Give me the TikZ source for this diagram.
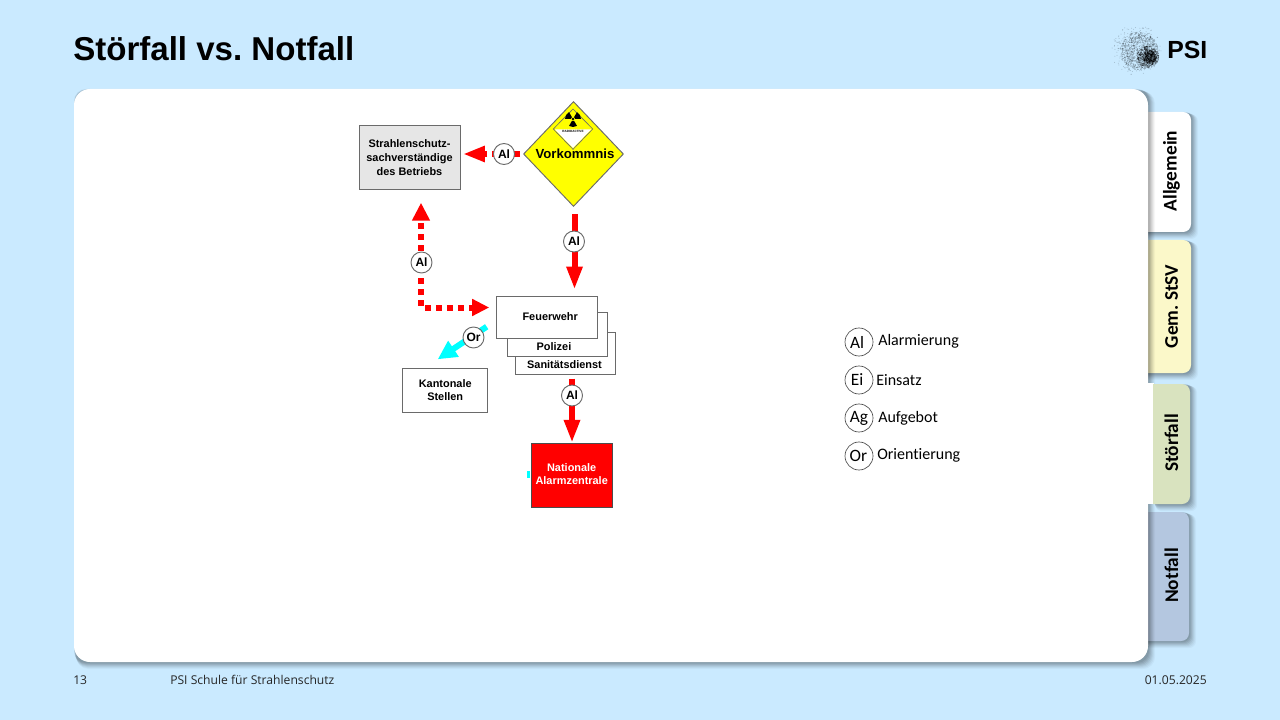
\documentclass[tikz,border=0pt]{standalone}
\usepackage{fontspec}
\setmainfont[Ligatures=NoCommon]{Carlito}
\newfontfamily\arialf{Liberation Sans}
\newfontfamily\footf[Ligatures=NoCommon]{Open Sans}
\usetikzlibrary{arrows.meta,calc,shapes.geometric}
\frenchspacing
\definecolor{bgblue}{HTML}{CAEAFF}
\definecolor{tabyellow}{HTML}{FBF8C9}
\definecolor{tabgreen}{HTML}{D9E3BF}
\definecolor{tabblue}{HTML}{B4C7E0}
\definecolor{edgegray}{HTML}{6A6A6A}
\definecolor{ssvgray}{HTML}{E6E6E6}
\definecolor{pureyellow}{HTML}{FFFF00}
\definecolor{purecyan}{HTML}{00FFFF}
\definecolor{purered}{HTML}{FF0000}
\newcommand{\dtext}[1]{\arialf\bfseries\fontsize{#1}{#1}\selectfont}
\newcommand{\softshadow}[5]{%
  \foreach \o/\e in {0/0.07,1/0.07,2/0.07,3/0.06,4/0.05,5/0.04,6/0.03}{
    \fill[black,opacity=\e,rounded corners=#5*0.75pt]
      ($(#1,#2)+(\o*0.4,\o*0.4)$) rectangle ($(#3,#4)+(\o*1.0+1,\o*1.0+1)$);
  }}
\tikzset{
  flow/.style 2 args={draw=edgegray,line width=0.7pt,fill=white,align=center,inner sep=0pt,
    minimum width=#1*0.75pt,minimum height=#2*0.75pt,text=black},
  flowtext/.style={inner sep=0pt,font=\dtext{8.2},text=black},
  badge/.style={circle,draw=edgegray,line width=0.7pt,fill=white,inner sep=0pt,
    minimum size=21*0.75pt,font=\dtext{9}},
  legendcircle/.style={circle,draw=black!70,line width=0.5pt,fill=white,inner sep=0pt,
    minimum size=28*0.75pt,font=\fontsize{13}{13}\selectfont},
  legendtext/.style={anchor=west,inner sep=0pt,font=\fontsize{12}{14}\selectfont,text=black},
  tabtext/.style={rotate=90,inner sep=0pt,font=\bfseries\fontsize{14.5}{16}\selectfont,text=black},
  foot/.style={inner sep=0pt,font=\footf\fontsize{9.1}{10}\selectfont,text=black!85},
  redsolid/.style={draw=purered,line width=6*0.75pt,-{Triangle[length=23*0.75pt,width=15*0.75pt]}},
  reddash/.style={draw=purered,line width=6*0.75pt,dash pattern=on 6*0.75pt off 5*0.75pt},
  cyanarrow/.style={draw=purecyan,line width=6*0.75pt,-{Triangle[length=19*0.75pt,width=18*0.75pt]}},
}
\begin{document}
\begin{tikzpicture}[x=0.75pt,y=-0.75pt]
\useasboundingbox (0,0) rectangle (1280,720);
\fill[bgblue] (0,0) rectangle (1280,720);

% title and logo
\node[anchor=base west,inner sep=0pt,font=\arialf\bfseries\fontsize{24.8}{26}\selectfont] (title) at (73,60.5) {Störfall vs. Notfall};
\pgfmathsetseed{11}
\foreach \i in {1,...,260}{
  \pgfmathsetmacro\ang{rnd*360}\pgfmathsetmacro\rad{25*sqrt(rnd)}
  \fill[black,opacity=.2] ($(1136,50)+(\ang:\rad)$) circle (0.5);
}
\foreach \i in {1,...,900}{
  \pgfmathsetmacro\ang{rnd*360}\pgfmathsetmacro\rad{19*sqrt(rnd)}
  \fill[black,opacity=.22] ($(1139,51)+(\ang:\rad)$) circle (0.55);
}
\foreach \i in {1,...,350}{
  \pgfmathsetmacro\ang{rnd*360}\pgfmathsetmacro\rad{11*sqrt(rnd)}
  \fill[black,opacity=.4] ($(1148,57)+(\ang:\rad)$) circle (0.6);
}
\foreach \i in {1,...,220}{
  \pgfmathsetmacro\ang{rnd*360}\pgfmathsetmacro\rad{6.5*sqrt(rnd)}
  \fill[black,opacity=.55] ($(1150,57)+(\ang:\rad)$) circle (0.65);
}
\node[anchor=base west,inner sep=0pt,font=\arialf\bfseries\fontsize{18.6}{20}\selectfont] (psi) at (1167,59) {PSI};

% tabs behind the panel
\softshadow{1140}{112}{1191}{232}{7}
\path[fill=white,rounded corners=6] (1140,112) -- (1191,112) -- (1191,232) -- (1140,232) -- cycle;
\softshadow{1140}{240}{1191}{373}{7}
\path[fill=tabyellow,rounded corners=6] (1140,240) -- (1191,240) -- (1191,373) -- (1140,373) -- cycle;
\softshadow{1140}{512}{1189}{641}{7}
\path[fill=tabblue,rounded corners=6] (1140,512) -- (1189,512) -- (1189,641) -- (1140,641) -- cycle;

% panel
\softshadow{74}{89}{1148}{662}{12}
\path[fill=white,rounded corners=12] (74,89) rectangle (1148,662);

% active tab
\softshadow{1153}{384}{1190}{504}{6}
\fill[white] (1146,383) rectangle (1153.5,504);
\path[fill=tabgreen] (1153,384) [rounded corners=6] -- (1190,384) -- (1190,504) [sharp corners] -- (1153,504) -- cycle;

\node[tabtext] (tabA) at (1171.5,171) {Allgemein};
\node[tabtext] (tabB) at (1171.5,306.5) {Gem. StSV};
\node[tabtext] (tabC) at (1171.5,443) {Störfall};
\node[tabtext] (tabD) at (1171.5,575.5) {Notfall};

% footer
\node[foot,anchor=base west] (f1) at (73,684) {13};
\node[foot,anchor=base west] (f2) at (170,684) {PSI Schule für Strahlenschutz};
\node[foot,anchor=base east] (f3) at (1207,684) {01.05.2025};

% diagram boxes
\node[flow={101}{63.5},fill=ssvgray,font=\dtext{8.2}] (ssv) at (409.5,157.5) {Strahlenschutz-\\[2.2pt]sachverständige\\[2.2pt]des Betriebs};
\node[flow={100}{42.5}] (san) at (565.3,353.3) {};
\node[flow={100.5}{43.5}] (pol) at (557.5,334.5) {};
\node[flow={101}{42},font=\dtext{8.2}] (feuer) at (547.2,317) {\kern4.5pt Feuerwehr};
\node[flowtext] (polt) at (554,346.7) {Polizei};
\node[flowtext] (sant) at (564.5,364.5) {Sanitätsdienst};
\node[flow={85}{44},font=\dtext{8.2}] (kant) at (445.2,390.3) {Kantonale\\[1.8pt]Stellen};
\node[flow={80.7}{64},fill=purered,text=white,draw=black!70,font=\dtext{8.2}] (naz) at (571.7,475.3) {\raisebox{1.5pt}{Nationale}\\[1.2pt]\raisebox{1.5pt}{Alarmzentrale}};
\fill[purecyan] (527,471) rectangle (530,478);

% Vorkommnis diamond
\node[diamond,aspect=1,draw=edgegray,line width=0.7pt,fill=pureyellow,inner sep=0pt,
  minimum width=100*0.75pt,minimum height=105*0.75pt] (vorkD) at (573.5,154) {};
\path[fill=pureyellow,draw=edgegray,line width=0.5pt] (573,109) -- (592.7,129) -- (573,149.3) -- (553.3,129) -- cycle;
\path[fill=white] (555,129.5) -- (591,129.5) -- (573,148) -- cycle;
\begin{scope}[shift={(573,119)},x=0.75pt,y=0.75pt]
  \foreach \a in {30,150,270}{
    \fill[black] (\a-30:2.2) -- (\a-30:8) arc[start angle=\a-30,end angle=\a+30,radius=8*0.75pt] -- (\a+30:2.2) -- cycle;
  }
  \fill[black] (0,0) circle (1.4);
\end{scope}
\node[inner sep=0pt,font=\arialf\bfseries\fontsize{2.3}{3}\selectfont] (radio) at (573,131.5) {RADIOACTIVE};
\node[inner sep=0pt,font=\dtext{9.9}] (vork) at (575,153.5) {Vorkommnis};

% connectors
\draw[reddash,-{Triangle[length=22*0.75pt,width=15*0.75pt]},shorten <=3*0.75pt,shorten >=2.5*0.75pt] (vorkD.west) -- (ssv.east |- vorkD.west);
\draw[redsolid,shorten <=7.5*0.75pt,shorten >=6*0.75pt] ([xshift=1*0.75pt]vorkD.south) -- ([xshift=1*0.75pt]vorkD.south |- feuer.north);
\draw[reddash,dash phase=7.3*0.75pt,{Triangle[length=18*0.75pt,width=17*0.75pt]}-{Triangle[length=17*0.75pt,width=16*0.75pt]},
  shorten <=13*0.75pt,shorten >=7*0.75pt]
  ([xshift=11.5*0.75pt]ssv.south) |- ([yshift=9.5*0.75pt]feuer.west);
\coordinate (orS) at (486.7,326.7);
\coordinate (orE) at (437.7,359.3);
\draw[cyanarrow] (orS) -- (orE);
\draw[redsolid,shorten <=3.5*0.75pt,shorten >=0*0.75pt] ([xshift=6.7*0.75pt]san.south) -- ([xshift=0.3*0.75pt]naz.north);

% labels on connectors
\node[badge] (b1) at (504,154) {Al};
\node[badge] (b2) at (574,241.5) {Al};
\node[badge] (b3) at (421.5,262.5) {Al};
\node[badge] (b4) at (473.5,337.5) {Or};
\node[badge] (b5) at (572,395.5) {Al};

% legend
\node[legendcircle] (la) at (859,342) {\kern-3pt Al};
\node[legendtext] (lta) at (878,341) {Alarmierung};
\node[legendcircle] (le) at (859,380) {\kern-3pt Ei};
\node[legendtext] (lte) at (876,380) {Einsatz};
\node[legendcircle] (lg) at (859,418) {Ag};
\node[legendtext] (ltg) at (878,418) {Aufgebot};
\node[legendcircle] (lo) at (859,456) {\kern-1pt Or};
\node[legendtext] (lto) at (877,455) {Orientierung};
\end{tikzpicture}
\end{document}
